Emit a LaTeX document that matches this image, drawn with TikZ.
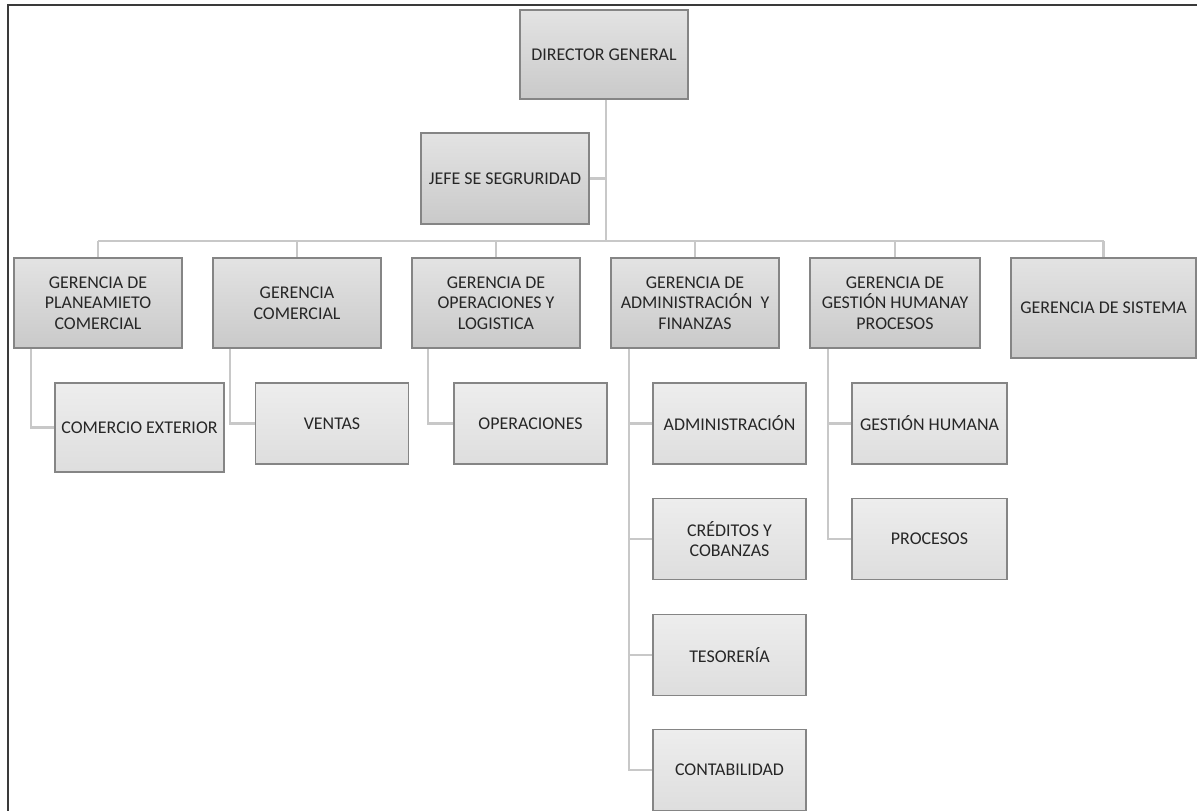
\documentclass[tikz,border=0pt]{standalone}
\usepackage{fontspec}
\setmainfont{Carlito}

\definecolor{boxline}{HTML}{858585}
\definecolor{linkgray}{HTML}{C8C8C8}
\definecolor{framegray}{HTML}{3A3A3A}
\definecolor{txtgray}{HTML}{262626}

\begin{document}
\begin{tikzpicture}[x=0.02cm, y=-0.02cm,
  gerencia/.style={draw=boxline, line width=0.9pt, top color=gray!22, bottom color=gray!42,
    align=center, text=txtgray, font=\fontsize{10.2}{11.8}\selectfont,
    minimum width=3.36cm, minimum height=1.8cm, inner sep=1pt},
  area/.style={gerencia, top color=gray!14, bottom color=gray!26,
    minimum width=3.06cm, minimum height=1.62cm},
  link/.style={draw=linkgray, line width=1.2pt}]
  \useasboundingbox (0,0) rectangle (1197,811);
  \draw[framegray, line width=1.1pt] (8,811) -- (8,5) -- (1197,5);

  \node[gerencia, minimum height=1.78cm] (dir) at (604,54.5) {DIRECTOR GENERAL};
  \node[gerencia, minimum height=1.82cm] (jefe) at (505,178.5) {JEFE SE SEGRURIDAD};

  \node[gerencia] (plan) at (98,303) {GERENCIA DE\\PLANEAMIETO\\COMERCIAL};
  \node[gerencia] (com) at (297,303) {GERENCIA\\COMERCIAL};
  \node[gerencia] (ope) at (496,303) {GERENCIA DE\\OPERACIONES Y\\LOGISTICA};
  \node[gerencia] (adm) at (695,303) {GERENCIA DE\\ADMINISTRACI\'ON~ Y\\FINANZAS};
  \node[gerencia, minimum width=3.4cm] (ghum) at (895,303) {GERENCIA DE\\GESTI\'ON HUMANAY\\PROCESOS};
  \node[gerencia, minimum width=3.7cm, minimum height=2cm] (sis) at (1103.5,308) {GERENCIA DE SISTEMA};

  \node[area, minimum width=3.38cm, minimum height=1.78cm] (cext) at (139.5,427.5) {COMERCIO EXTERIOR};
  \node[area] (ven) at (332,423.5) {VENTAS};
  \node[area] (oper) at (530.5,423.5) {OPERACIONES};
  \node[area] (admi) at (729.5,423.5) {ADMINISTRACI\'ON};
  \node[area] (cred) at (729.5,539) {CR\'EDITOS Y\\COBANZAS};
  \node[area] (teso) at (729.5,655) {TESORER\'IA};
  \node[area] (cont) at (729.5,770) {CONTABILIDAD};
  \node[area, minimum width=3.1cm] (gest) at (929.5,423.5) {GESTI\'ON HUMANA};
  \node[area, minimum width=3.1cm] (proc) at (929.5,539) {PROCESOS};

  % tronco y barra
  \coordinate (bus) at (606,241);
  \draw[link] (dir.south -| bus) -- (bus);
  \draw[link] (jefe.east) -- (jefe.east -| bus);
  \draw[link] (plan.north |- bus) -- (sis.north |- bus);
  \foreach \g in {plan,com,ope,adm,ghum,sis}
    \draw[link] (\g.north |- bus) -- (\g.north);

  % areas
  \coordinate (planb) at ([xshift=0.36cm]plan.south west);
  \coordinate (comb) at ([xshift=0.36cm]com.south west);
  \coordinate (opeb) at ([xshift=0.34cm]ope.south west);
  \coordinate (admb) at ([xshift=0.38cm]adm.south west);
  \coordinate (ghumb) at ([xshift=0.38cm]ghum.south west);
  \draw[link] (planb) |- (cext.west);
  \draw[link] (comb) |- (ven.west);
  \draw[link] (opeb) |- (oper.west);
  \foreach \a in {admi,cred,teso,cont}
    \draw[link] (admb) |- (\a.west);
  \foreach \a in {gest,proc}
    \draw[link] (ghumb) |- (\a.west);
\end{tikzpicture}
\end{document}
